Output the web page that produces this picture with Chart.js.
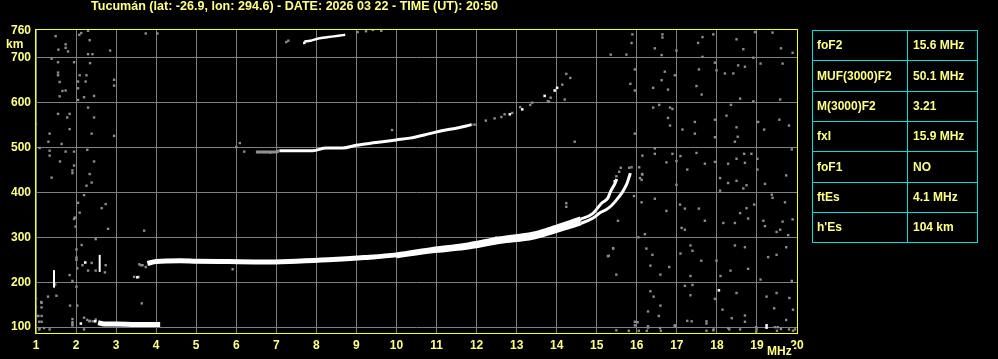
<!DOCTYPE html>
<html>
<head>
<meta charset="utf-8">
<script src="https://cdn.jsdelivr.net/npm/chart.js@4.4.1/dist/chart.umd.min.js"></script>
<style>
  html, body { margin: 0; padding: 0; background: #000; }
  #wrap { position: relative; width: 998px; height: 359px; }
</style>
</head>
<body>
<div id="wrap"><canvas id="iono" width="998" height="359"></canvas></div>
<script>
const titleText = "Tucumán (lat: -26.9, lon: 294.6) - DATE: 2026 03 22 - TIME (UT): 20:50";
const yTicks = [100, 200, 300, 400, 500, 600, 700, 760];

// scaled parameters table
const paramNames = ["foF2", "MUF(3000)F2", "M(3000)F2", "fxI", "foF1", "ftEs", "h'Es"];
const paramValues = ["15.6 MHz", "50.1 MHz", "3.21", "15.9 MHz", "NO", "4.1 MHz", "104 km"];

// sporadic E trace
const esFreq = [2.55, 2.7, 3.0, 3.5, 4.0, 4.1];
const esKm = [110, 107, 107, 106, 106, 106];

// F layer, ordinary trace
const fOFreq = [3.78, 4.0, 4.6, 5.0, 5.8, 6.7, 7.5, 8.3, 9.2, 10.0, 10.9, 11.7, 12.6, 13.4, 13.8, 14.2, 14.6, 14.9, 15.12, 15.28, 15.35, 15.45, 15.5];
const fOKm = [242, 246, 248, 247, 246, 245, 247, 250, 255, 261, 273, 282, 297, 307, 317, 329, 341, 353, 376, 388, 403, 419, 430];

// F layer, extraordinary trace
const fXFreq = [10.0, 10.9, 11.7, 12.6, 13.4, 13.8, 14.2, 14.6, 14.91, 15.08, 15.24, 15.37, 15.49, 15.62, 15.7, 15.76, 15.8, 15.84];
const fXKm = [258, 269, 276, 290, 299, 309, 320, 331, 343, 355, 362, 371, 383, 398, 410, 421, 432, 443];

// second hop
const hop2Freq = [6.49, 6.99, 7.08, 7.91, 8.24, 8.66, 8.99, 9.49, 9.99, 10.33, 10.83, 11.16, 11.49, 11.74, 11.87];
const hop2Km = [490, 490, 493, 493, 499, 499, 505, 511, 517, 521, 531, 538, 543, 548, 551];

// third hop
const hop3Freq = [7.7, 7.85, 8.05, 8.3, 8.55, 8.72];
const hop3Km = [736, 738, 743, 746, 749, 751];

// short vertical echoes
const spikeFreq = [1.45, 2.59];
const spikeLow = [188, 223];
const spikeHigh = [227, 261];

// isolated strong echoes
const echoPoints = [[12.83, 574], [13.14, 585], [13.7, 615], [13.95, 627], [14.01, 633], [2.23, 244], [3.53, 211],
  [2.12, 108], [19.24, 99], [19.24, 104], [18.05, 182], [2.48, 113], [7.7, 733], [15.45, 425]];

// weak echoes / noise
const noisePoints = [
  [15.89, 752], [16.64, 752], [16.64, 745], [17.64, 746], [17.91, 752], [18.49, 741], [18.95, 757], [19.39, 756], [15.87, 733], [16.45, 721],
  [16.62, 706], [16.99, 716], [17.53, 733], [15.35, 707], [15.74, 707], [17.64, 702], [18.66, 719], [18.91, 700], [19.6, 721], [19.89, 711],
  [19.09, 687], [19.64, 687], [17.95, 689], [18.53, 683], [18.7, 680], [15.95, 674], [16.7, 669], [16.95, 661], [16.62, 650], [16.41, 633],
  [16.78, 629], [15.95, 627], [15.84, 642], [17.49, 637], [17.62, 618], [17.55, 674], [17.99, 672], [18.2, 665], [18.41, 665], [18.58, 609],
  [18.91, 603], [19.58, 607], [16.41, 589], [16.56, 595], [16.83, 589], [16.89, 586], [16.78, 566], [16.83, 549], [17.14, 540], [17.45, 557],
  [17.45, 531], [17.95, 562], [17.95, 523], [18.24, 571], [18.35, 595], [18.49, 545], [18.52, 524], [18.45, 513], [19.03, 557], [19.18, 540],
  [19.56, 562], [19.8, 549], [15.95, 531], [16.45, 498], [16.14, 482], [16.45, 486], [16.89, 486], [17.09, 481], [17.49, 488], [16.99, 470],
  [16.74, 467], [17.26, 451], [17.7, 464], [17.95, 468], [18.28, 464], [18.49, 475], [18.68, 486], [18.86, 486], [18.7, 466], [19.01, 475],
  [19.01, 451], [18.08, 432], [18.28, 421], [18.49, 426], [18.74, 416], [19.2, 419], [19.73, 438], [19.87, 496], [16.08, 432], [16.14, 440],
  [16.99, 417], [18.08, 404], [18.66, 409], [19.37, 395], [19.7, 378], [19.39, 388], [16.12, 378], [16.45, 386], [17.08, 373], [17.2, 364],
  [17.55, 364], [16.74, 359], [18.74, 365], [18.93, 373], [18.58, 354], [18.78, 342], [18.45, 332], [18.16, 332], [19.16, 337], [19.64, 335],
  [19.89, 340], [17.7, 337], [17.12, 321], [17.2, 317], [16.2, 307], [16.04, 300], [19.2, 325], [19.49, 312], [19.78, 305], [19.58, 317],
  [15.41, 275], [15.3, 259], [16.24, 275], [16.39, 261], [16.34, 237], [16.81, 234], [16.59, 217], [15.49, 217], [17.09, 264], [17.34, 282],
  [17.39, 270], [17.61, 248], [17.34, 214], [17.99, 248], [18.09, 214], [18.45, 282], [18.7, 278], [18.34, 226], [18.78, 230], [19.09, 206],
  [19.28, 256], [19.49, 261], [19.73, 278], [19.87, 203], [17.2, 192], [17.39, 194], [17.34, 171], [17.95, 163], [18.49, 176], [19.24, 168],
  [19.49, 176], [19.81, 165], [16.34, 180], [16.42, 168], [16.59, 148], [16.28, 135], [16.55, 125], [18.14, 139], [18.37, 120], [18.7, 126],
  [17.74, 113], [17.26, 114], [19.43, 142], [19.9, 139], [19.73, 116], [16.02, 111], [16.28, 99], [16.6, 92], [16.95, 103], [17.92, 95],
  [18.31, 95], [18.58, 95], [18.99, 95],
  [15.95, 112], [15.95, 104], [15.49, 93], [15.8, 92], [16.05, 92], [16.25, 92], [16.28, 102], [16.58, 98], [16.95, 104], [17.37, 113],
  [17.74, 108], [17.74, 92], [17.91, 93], [18.28, 98], [18.7, 112], [18.98, 100], [18.98, 90], [19.45, 100], [19.52, 100], [19.6, 96],
  [19.5, 92], [19.8, 95], [19.95, 95], [19.9, 92],
  [1.49, 748], [1.74, 730], [1.74, 722], [1.56, 718], [1.8, 714], [2.13, 755], [2.08, 751], [2.3, 760], [2.34, 739], [1.39, 698],
  [1.55, 690], [1.95, 690], [2.3, 708], [2.41, 708], [2.85, 716], [2.35, 688], [1.55, 667], [1.55, 661], [1.59, 646], [1.66, 626],
  [1.74, 627], [1.59, 614], [2.05, 632], [2.05, 647], [2.26, 661], [2.09, 661], [2.24, 647], [2.2, 612], [2.05, 606], [2.45, 615],
  [2.95, 651], [2.95, 638], [1.0, 552], [1.55, 575], [1.84, 575], [1.78, 567], [1.84, 541], [2.3, 589], [2.45, 567], [2.39, 531],
  [2.95, 526], [1.34, 531], [1.31, 513], [1.64, 508], [1.09, 499], [1.34, 493], [1.34, 482], [1.74, 491], [1.95, 491], [1.6, 469],
  [1.95, 460], [1.91, 449], [1.91, 443], [2.28, 495], [2.45, 469], [2.34, 441], [2.26, 415], [2.39, 422], [1.39, 433], [2.2, 394],
  [2.05, 377], [2.09, 355], [1.95, 341], [1.99, 324], [1.97, 344], [2.64, 365], [2.74, 374], [2.8, 319], [2.49, 296], [2.14, 283],
  [2.01, 273], [2.01, 255], [2.01, 250], [2.03, 231], [2.16, 238], [2.3, 226], [2.39, 243], [2.74, 238], [2.72, 222], [2.49, 226],
  [1.84, 216], [1.91, 203], [2.01, 190], [1.48, 195], [1.51, 170], [1.3, 168], [1.14, 154], [1.14, 144], [1.14, 125], [1.06, 125],
  [1.14, 112], [2.03, 148], [1.85, 148], [1.91, 118], [1.91, 107], [2.2, 121], [2.33, 113], [1.09, 97], [1.34, 95], [3.74, 754],
  [4.03, 754], [1.0, 164], [1.0, 144], [1.13, 156], [1.03, 125], [1.2, 98], [1.08, 112], [1.08, 95], [2.2, 95], [1.91, 111], [1.91, 104],
  [6.0, 501], [6.09, 510], [6.2, 491], [9.89, 539], [13.39, 600], [13.78, 603], [14.45, 513], [12.49, 300], [14.24, 376], [14.24, 368],
  [15.53, 337], [15.41, 276], [15.28, 258], [3.7, 315], [3.62, 238], [3.45, 212], [3.56, 212], [3.64, 153], [5.91, 229], [9.03, 757],
  [9.24, 759], [9.41, 762], [9.62, 760], [7.25, 735], [7.3, 738], [15.6, 455], [15.87, 456], [15.56, 446], [12.23, 560], [12.45, 565],
  [12.62, 568], [12.7, 574], [12.89, 577], [13.09, 590], [13.34, 595], [13.81, 602], [13.85, 611], [14.14, 640], [14.24, 664], [14.34, 655],
  [14.2, 607], [2.28, 116], [2.35, 114], [2.42, 113], [2.49, 117], [3.58, 240], [3.66, 238], [3.74, 234], [11.87, 551], [11.95, 551],
  [15.49, 436], [15.81, 455], [16.06, 456], [16.12, 428], [16.13, 441], [15.93, 392], [6.55, 490], [6.7, 490], [6.85, 489]
];

const YELLOW = "#ffff80";
const FONT = "'Liberation Sans', Arial, sans-serif";

const toPts = (fs, hs) => fs.map((f, i) => ({ x: f, y: hs[i] }));
const pairPts = (arr) => arr.map(([f, h]) => ({ x: f, y: h }));

function trace(points, width, color) {
  return {
    type: "line",
    data: points,
    showLine: true,
    borderColor: color || "#ffffff",
    borderWidth: width,
    pointRadius: 0,
    fill: false,
    cubicInterpolationMode: "monotone",
  };
}

// O and X traces thin out where they separate near the critical frequency
const splitFreq = 14.6;
const fO = trace(toPts(fOFreq, fOKm), 5);
fO.segment = { borderWidth: (c) => (c.p0.parsed.x >= splitFreq ? 3 : 5) };
const fX = trace(toPts(fXFreq, fXKm), 4);
fX.segment = { borderWidth: (c) => (c.p0.parsed.x >= splitFreq ? 3 : 4) };
const hop2 = trace(toPts(hop2Freq, hop2Km), 3);
hop2.segment = { borderColor: (c) => (c.p0.parsed.x < 7.05 ? "#909090" : "#ffffff") };

const datasets = [
  trace(toPts(esFreq, esKm), 5),
  fO,
  fX,
  hop2,
  trace(toPts(hop3Freq, hop3Km), 2.5),
];
spikeFreq.forEach((f, i) => {
  const d = trace([{ x: f, y: spikeLow[i] }, { x: f, y: spikeHigh[i] }], 2);
  d.cubicInterpolationMode = "default";
  d.tension = 0;
  datasets.push(d);
});
datasets.push({
  type: "scatter",
  data: pairPts(echoPoints),
  pointStyle: "rect",
  pointRadius: 1.8,
  pointBackgroundColor: "#ffffff",
  pointBorderWidth: 0,
});
datasets.push({
  type: "scatter",
  data: pairPts(noisePoints),
  pointStyle: "rect",
  pointRadius: 1.7,
  pointBackgroundColor: "#8c8c8c",
  pointBorderWidth: 0,
});

// frame, title, axis units and the parameters table
const decorations = {
  id: "decorations",
  afterDraw(chart) {
    const { ctx, chartArea: a } = chart;
    ctx.save();
    ctx.strokeStyle = "#ffff00";
    ctx.lineWidth = 1;
    ctx.strokeRect(a.left - 0.5, a.top + 0.5, a.right - a.left + 1, a.bottom - a.top);

    ctx.fillStyle = YELLOW;
    ctx.font = "bold 12px " + FONT;
    ctx.textBaseline = "middle";
    ctx.textAlign = "left";
    const tw = ctx.measureText(titleText).width;
    ctx.save();
    ctx.translate(91, 7);
    ctx.scale(407 / tw, 1);
    ctx.fillText(titleText, 0, 0);
    ctx.restore();
    ctx.fillText("km", 6, 45);

    ctx.fillStyle = "#000";
    ctx.fillRect(766, 346, 28, 13);
    ctx.fillStyle = YELLOW;
    ctx.fillText("MHz", 767, 352);

    const tLeft = 812, tMid = 907, tRight = 977, tTop = 30, rowH = 30.3;
    ctx.strokeStyle = "#00e0e0";
    const n = paramNames.length;
    const tBottom = Math.round(tTop + n * rowH) + 0.5;
    ctx.beginPath();
    for (let i = 0; i <= n; i++) {
      const y = Math.round(tTop + i * rowH) + 0.5;
      ctx.moveTo(tLeft, y);
      ctx.lineTo(tRight + 1, y);
    }
    [tLeft, tMid, tRight].forEach((x) => {
      ctx.moveTo(x + 0.5, tTop);
      ctx.lineTo(x + 0.5, tBottom);
    });
    ctx.stroke();
    ctx.fillStyle = YELLOW;
    for (let i = 0; i < n; i++) {
      const yc = tTop + (i + 0.5) * rowH + 1;
      ctx.fillText(paramNames[i], tLeft + 5, yc);
      ctx.fillText(paramValues[i], tMid + 6, yc);
    }
    ctx.restore();
  },
};

new Chart(document.getElementById("iono"), {
  type: "scatter",
  data: { datasets },
  options: {
    responsive: false,
    devicePixelRatio: 1,
    animation: false,
    events: [],
    layout: { padding: { left: 0, top: 29, right: 201, bottom: 0 } },
    plugins: { legend: { display: false }, tooltip: { enabled: false } },
    scales: {
      x: {
        type: "linear",
        min: 1,
        max: 20,
        afterFit: (s) => { s.height = 26; },
        ticks: { stepSize: 1, autoSkip: false, maxRotation: 0, color: YELLOW, padding: 5, font: { family: FONT, size: 12, weight: "bold" } },
        grid: { color: "#808080", drawTicks: false },
        border: { display: false },
      },
      y: {
        type: "linear",
        min: 87,
        max: 764,
        afterFit: (s) => { s.width = 36; },
        afterBuildTicks: (s) => { s.ticks = yTicks.map((v) => ({ value: v })); },
        ticks: { autoSkip: false, color: YELLOW, padding: 5, font: { family: FONT, size: 12, weight: "bold" } },
        grid: { color: (c) => (c.tick && c.tick.value === 760 ? "rgba(0,0,0,0)" : "#808080"), drawTicks: false },
        border: { display: false },
      },
    },
  },
  plugins: [decorations],
});
</script>
</body>
</html>
